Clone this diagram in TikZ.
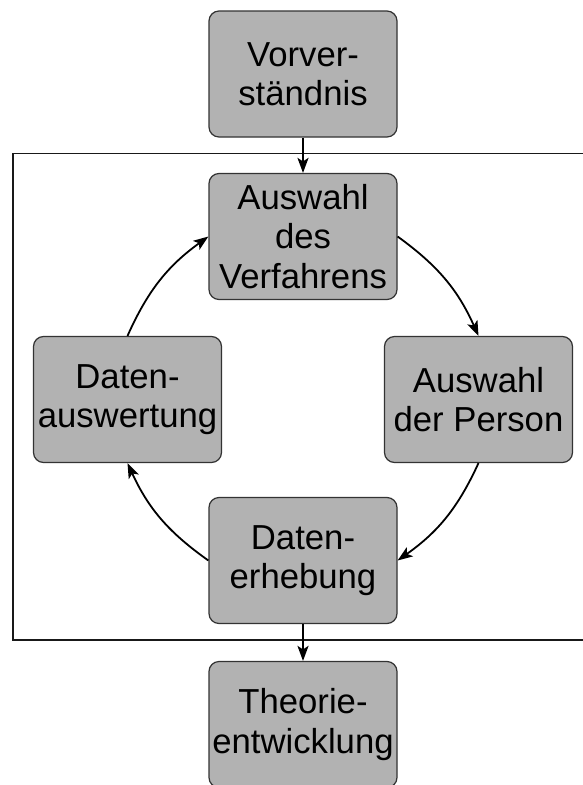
\documentclass[tikz,border=0pt]{standalone}
\usepackage{fontspec}
\setmainfont{Liberation Sans}
\usetikzlibrary{arrows.meta}
\begin{document}
\begin{tikzpicture}[x=1pt,y=-1pt,
  stage/.style={draw=black!80, line width=1.2pt, fill=black!30, rounded corners=10pt,
    minimum width=188pt, minimum height=126pt, align=center, inner sep=0pt,
    font=\fontsize{34.7}{39.5}\selectfont},
  flow/.style={line width=1.8pt, -{Stealth[length=15pt,width=11pt,inset=3.5pt]}},
  cycleframe/.style={line width=1.3pt, draw=black!90}]
\useasboundingbox (0,0) rectangle (582,785);

% frame around the research cycle
\draw[cycleframe] (13,153.5) rectangle (610,640);

% stages
\node[stage] (vor)  at (303,74)      {Vorver-\\ständnis};
\node[stage] (verf) at (303,236.5)   {Auswahl\\des\\Verfahrens};
\node[stage] (pers) at (478.5,399.5) {Auswahl\\der Person};
\node[stage] (ausw) at (127.5,399.5) {Daten-\\auswertung};
\node[stage] (erh)  at (303,560.5)   {Daten-\\erhebung};
\node[stage] (theo) at (303,724.5)   {Theorie-\\entwicklung};

% connections
\draw[flow] (vor.south) -- (verf.north);
\draw[flow] (verf.east) to[bend left=15] (pers.north);
\draw[flow] (pers.south) to[bend left=15] (erh.east);
\draw[flow] (erh.west) to[bend left=15] (ausw.south);
\draw[flow] (ausw.north) to[bend left=15] (verf.west);
\draw[flow] (erh.south) -- (theo.north);
\end{tikzpicture}
\end{document}
